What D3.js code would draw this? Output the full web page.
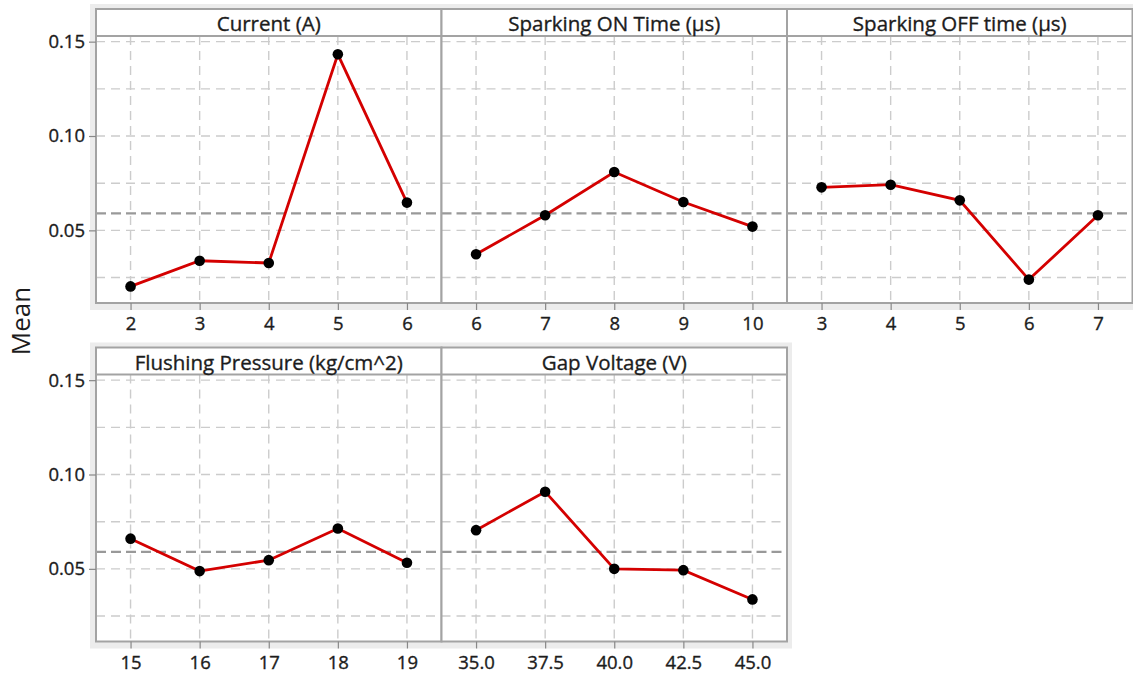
<!DOCTYPE html>
<html>
<head>
<meta charset="utf-8">
<script src="https://cdn.jsdelivr.net/npm/d3@7"></script>
<style>
  html, body { margin: 0; padding: 0; background: #fff; }
  svg { display: block; font-family: "Open Sans", "Noto Sans", sans-serif; }
</style>
</head>
<body>
<svg id="chart" width="1133" height="676"></svg>
<script>
// Main effects plot for means: one panel per factor
const factors = ["Current (A)", "Sparking ON Time (µs)", "Sparking OFF time (µs)", "Flushing Pressure (kg/cm^2)", "Gap Voltage (V)"];

const currentLevels = [2, 3, 4, 5, 6];
const currentMeans = [0.0203, 0.0339, 0.0327, 0.1433, 0.0647];

const onTimeLevels = [6, 7, 8, 9, 10];
const onTimeMeans = [0.0373, 0.0580, 0.0809, 0.0650, 0.0520];

const offTimeLevels = [3, 4, 5, 6, 7];
const offTimeMeans = [0.0728, 0.0742, 0.0659, 0.0239, 0.0580];

const pressureLevels = [15, 16, 17, 18, 19];
const pressureMeans = [0.0660, 0.0488, 0.0546, 0.0714, 0.0532];

const voltageLevels = [35.0, 37.5, 40.0, 42.5, 45.0];
const voltageMeans = [0.0705, 0.0909, 0.0500, 0.0493, 0.0338];

const yTicks = [0.05, 0.10, 0.15];
const yGrid = [0.025, 0.05, 0.075, 0.10, 0.125, 0.15];
const grandMean = 0.0590;

const panels = [
  { title: factors[0], levels: currentLevels, means: currentMeans, fmt: d3.format("d"), row: 0, col: 0 },
  { title: factors[1], levels: onTimeLevels, means: onTimeMeans, fmt: d3.format("d"), row: 0, col: 1 },
  { title: factors[2], levels: offTimeLevels, means: offTimeMeans, fmt: d3.format("d"), row: 0, col: 2 },
  { title: factors[3], levels: pressureLevels, means: pressureMeans, fmt: d3.format("d"), row: 1, col: 0 },
  { title: factors[4], levels: voltageLevels, means: voltageMeans, fmt: d3.format(".1f"), row: 1, col: 1 }
];

const svg = d3.select("#chart");

// Layout
const colX = [96, 441.5, 787];
const panelW = 345.5;
const rowY = [9, 347.5];
const panelH = 294;
const headerH = 27;
const band = 5;

const textColor = "#1c1c1c";
const frameColor = "#a3a3a3";

function styleText(sel, size) {
  sel.attr("font-size", size)
    .attr("fill", textColor)
    .attr("stroke", textColor)
    .attr("stroke-width", 0.35)
    .attr("font-family", "\"Open Sans\", sans-serif");
}

// light frame band behind each row of panels
const rowCols = [3, 2];
rowCols.forEach((n, r) => {
  svg.append("rect")
    .attr("x", colX[0] - band - 1)
    .attr("y", rowY[r] - band)
    .attr("width", panelW * n + band * 2 + 1)
    .attr("height", panelH + band * 2 + 2)
    .attr("fill", "#ececec");
});

panels.forEach(p => {
  const x0 = colX[p.col];
  const top = rowY[p.row];
  const bottom = top + panelH;
  const plotTop = top + headerH;

  const step = p.levels[1] - p.levels[0];
  const x = d3.scaleLinear()
    .domain([p.levels[0] - step / 2, p.levels[p.levels.length - 1] + step / 2])
    .range([x0, x0 + panelW]);
  const y = d3.scaleLinear().domain([0.0115, 0.153]).range([bottom, plotTop]);

  const g = svg.append("g");

  g.append("rect")
    .attr("x", x0).attr("y", top)
    .attr("width", panelW).attr("height", panelH)
    .attr("fill", "#fff");

  // horizontal grid
  g.selectAll(".hg").data(yGrid).join("line")
    .attr("x1", x0).attr("x2", x0 + panelW)
    .attr("y1", d => y(d)).attr("y2", d => y(d))
    .attr("stroke", "#cccccc").attr("stroke-width", 1.4)
    .attr("stroke-dasharray", "9,6");

  // vertical grid
  g.selectAll(".vg").data(p.levels).join("line")
    .attr("x1", d => x(d)).attr("x2", d => x(d))
    .attr("y1", plotTop).attr("y2", bottom)
    .attr("stroke", "#cccccc").attr("stroke-width", 1.4)
    .attr("stroke-dasharray", "9,6");

  // overall mean reference
  g.append("line")
    .attr("x1", x0).attr("x2", x0 + panelW)
    .attr("y1", y(grandMean)).attr("y2", y(grandMean))
    .attr("stroke", "#999").attr("stroke-width", 2.2)
    .attr("stroke-dasharray", "10,5");

  // means line and points
  const pts = p.levels.map((v, i) => [v, p.means[i]]);
  g.append("path")
    .datum(pts)
    .attr("fill", "none")
    .attr("stroke", "#d40000")
    .attr("stroke-width", 2.8)
    .attr("d", d3.line().x(d => x(d[0])).y(d => y(d[1])));

  g.selectAll(".pt").data(pts).join("circle")
    .attr("cx", d => x(d[0])).attr("cy", d => y(d[1]))
    .attr("r", 5.3).attr("fill", "#000");

  // header strip
  g.append("line")
    .attr("x1", x0).attr("x2", x0 + panelW)
    .attr("y1", plotTop).attr("y2", plotTop)
    .attr("stroke", frameColor).attr("stroke-width", 2);
  g.append("text")
    .attr("x", x0 + panelW / 2).attr("y", top + 22)
    .attr("text-anchor", "middle")
    .call(styleText, 20.5)
    .text(p.title);

  // frame
  g.append("rect")
    .attr("x", x0).attr("y", top)
    .attr("width", panelW).attr("height", panelH)
    .attr("fill", "none")
    .attr("stroke", frameColor).attr("stroke-width", 2);

  // x axis
  const xAxis = g.append("g")
    .attr("transform", `translate(0,${bottom})`)
    .call(d3.axisBottom(x).tickValues(p.levels).tickFormat(p.fmt).tickSize(7).tickPadding(7));
  xAxis.select(".domain").remove();
  xAxis.selectAll(".tick line").attr("stroke", "#888").attr("stroke-width", 1.2);
  xAxis.selectAll(".tick text").call(styleText, 18.5);

  // y axis on the first column
  if (p.col === 0) {
    const yAxis = g.append("g")
      .attr("transform", `translate(${x0},0)`)
      .call(d3.axisLeft(y).tickValues(yTicks).tickFormat(d3.format(".2f")).tickSize(7).tickPadding(4));
    yAxis.select(".domain").remove();
    yAxis.selectAll(".tick line").attr("stroke", "#888").attr("stroke-width", 1.2);
    yAxis.selectAll(".tick text").call(styleText, 18.5);
  }
});

// shared y-axis title
svg.append("text")
  .attr("transform", "translate(30,321) rotate(-90)")
  .attr("text-anchor", "middle")
  .attr("font-size", 26)
  .attr("fill", textColor)
  .text("Mean");
</script>
</body>
</html>
